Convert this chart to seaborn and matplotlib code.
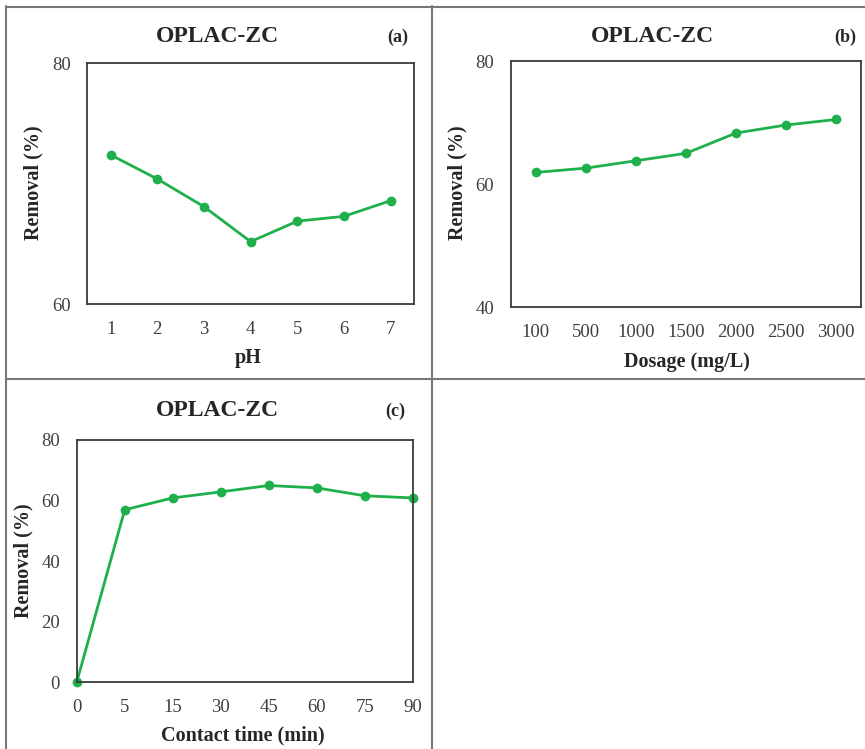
import numpy as np
import pandas as pd
import seaborn as sns
import matplotlib.pyplot as plt
from matplotlib.lines import Line2D

# data
ph = [1, 2, 3, 4, 5, 6, 7]
removal_ph = [72.4, 70.4, 68.1, 65.2, 66.9, 67.3, 68.6]

dosage = ["100", "500", "1000", "1500", "2000", "2500", "3000"]
removal_dosage = [61.9, 62.6, 63.8, 65.0, 68.3, 69.6, 70.5]

contact_time = ["0", "5", "15", "30", "45", "60", "75", "90"]
removal_time = [0.0, 56.9, 60.8, 62.8, 64.9, 64.1, 61.5, 60.8]

sns.set_style("white")
plt.rcParams["font.family"] = ["Liberation Serif", "DejaVu Serif"]

W, H = 865, 749
GREEN = "#1fb04c"
fig = plt.figure(figsize=(W / 100, H / 100), dpi=100)


def px_axes(left, right, top, bottom):
    return fig.add_axes([left / W, 1 - bottom / H, (right - left) / W, (bottom - top) / H])


def style(ax, yticks, xlabel, xlab_xy, ylab_xy, title_xy, tag, tag_xy):
    ax.set_yticks(yticks)
    ax.tick_params(length=0, labelsize=13.5, labelcolor="#404040", pad=12)
    for s in ax.spines.values():
        s.set_color("#3a3a3a")
        s.set_linewidth(1.3)
    ax.set_xlabel(xlabel, fontsize=14.5, fontweight="bold")
    ax.set_ylabel("Removal (%)", fontsize=14.5, fontweight="bold")
    ax.xaxis.set_label_coords(xlab_xy[0] / W, 1 - xlab_xy[1] / H, transform=fig.transFigure)
    ax.yaxis.set_label_coords(ylab_xy[0] / W, 1 - ylab_xy[1] / H, transform=fig.transFigure)
    ax.xaxis.label.set_va("center")
    ax.yaxis.label.set_va("center")
    fig.text(title_xy[0] / W, 1 - title_xy[1] / H, "OPLAC-ZC", fontsize=17,
             fontweight="bold", ha="center", va="center")
    fig.text(tag_xy[0] / W, 1 - tag_xy[1] / H, tag, fontsize=13, fontweight="bold",
             ha="center", va="center")


# (a) pH
ax1 = px_axes(87.3, 414, 63.3, 304.3)
df1 = pd.DataFrame({"pH": ph, "Removal": removal_ph})
sns.lineplot(data=df1, x="pH", y="Removal", ax=ax1, color=GREEN, lw=2,
             marker="o", markersize=7, markeredgewidth=0)
ax1.set_xlim(0.5, 7.5)
ax1.set_ylim(60, 80)
ax1.set_xticks(ph)
style(ax1, [60, 80], "pH", (248, 358), (33, 183), (217, 36), "(a)", (398, 37))

# (b) dosage
ax2 = px_axes(510.7, 861, 61, 307.3)
df2 = pd.DataFrame({"Dosage": dosage, "Removal": removal_dosage})
sns.lineplot(data=df2, x="Dosage", y="Removal", ax=ax2, color=GREEN, lw=2, sort=False,
             marker="o", markersize=7, markeredgewidth=0)
ax2.set_xlim(-0.5, len(dosage) - 0.5)
ax2.set_ylim(40, 80)
style(ax2, [40, 60, 80], "Dosage (mg/L)", (687, 362), (457, 183), (652, 36), "(b)", (845, 37))

# (c) contact time
ax3 = px_axes(76.7, 413, 439.7, 682.3)
df3 = pd.DataFrame({"Time": contact_time, "Removal": removal_time})
sns.lineplot(data=df3, x="Time", y="Removal", ax=ax3, color=GREEN, lw=2, sort=False,
             marker="o", markersize=7, markeredgewidth=0, clip_on=False)
ax3.set_xlim(0, len(contact_time) - 1)
ax3.set_ylim(0, 80)
style(ax3, [0, 20, 40, 60, 80], "Contact time (min)", (243, 735), (23, 561), (217, 410), "(c)", (395, 411))

# panel frame lines
border = dict(color="#777777", lw=1.5, transform=fig.transFigure)
for xs, ys in [((6, 6), (6, H)), ((6, W), (6.5, 6.5)), ((432, 432), (6, H)), ((6, W), (379, 379))]:
    fig.add_artist(Line2D([x / W for x in xs], [1 - y / H for y in ys], **border))

fig.savefig("out.png", dpi=100)
